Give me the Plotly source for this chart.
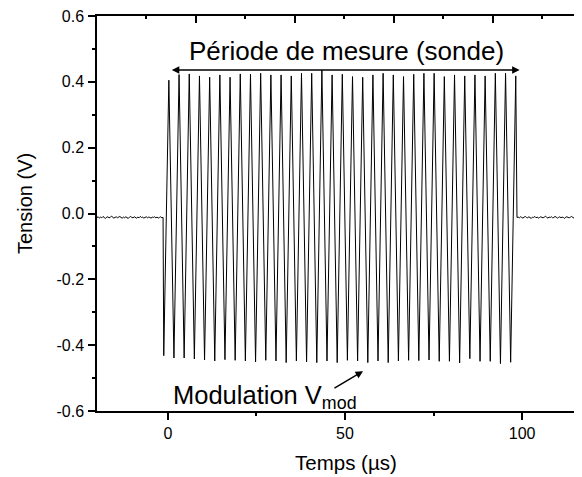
import numpy as np
import plotly.graph_objects as go

# ---------------- data ----------------
# times of oscillation maxima / minima (µs)
peak_t = [0.28, 3.16, 6.04, 8.92, 11.80, 14.68, 17.56, 20.44, 23.32, 26.20,
          29.08, 31.96, 34.84, 37.72, 40.60, 43.48, 46.36, 49.24, 52.12, 55.00,
          57.88, 60.76, 63.64, 66.52, 69.40, 72.28, 75.16, 78.04, 80.92, 83.80,
          86.68, 89.56, 92.44, 95.32, 98.20]
peak_v = [0.405, 0.422, 0.424, 0.418, 0.414, 0.421, 0.414, 0.424, 0.423, 0.426,
          0.421, 0.421, 0.418, 0.426, 0.426, 0.436, 0.421, 0.423, 0.416, 0.414,
          0.421, 0.426, 0.421, 0.416, 0.423, 0.426, 0.426, 0.416, 0.421, 0.418,
          0.421, 0.418, 0.426, 0.426, 0.418]
trough_t = [-1.16, 1.72, 4.60, 7.48, 10.36, 13.24, 16.12, 19.00, 21.88, 24.76,
            27.64, 30.52, 33.40, 36.28, 39.16, 42.04, 44.92, 47.80, 50.68, 53.56,
            56.44, 59.32, 62.20, 65.08, 67.96, 70.84, 73.72, 76.60, 79.48, 82.36,
            85.24, 88.12, 91.00, 93.88, 96.76]
trough_v = [-0.432, -0.439, -0.439, -0.442, -0.445, -0.448, -0.444, -0.446, -0.448, -0.451,
            -0.446, -0.448, -0.453, -0.448, -0.451, -0.453, -0.448, -0.453, -0.446, -0.448,
            -0.453, -0.448, -0.453, -0.448, -0.446, -0.447, -0.445, -0.449, -0.449, -0.454,
            -0.441, -0.449, -0.449, -0.456, -0.452]

# baseline (probe off) noise, before and after the measurement window
left_start, left_end = -20.0, -1.35
left_noise = [-0.012, -0.010, -0.014, -0.011, -0.013, -0.009, -0.012, -0.015, -0.011, -0.010,
              -0.013, -0.012, -0.008, -0.011, -0.014, -0.012, -0.010, -0.013, -0.011, -0.009,
              -0.012, -0.014, -0.011, -0.013, -0.010, -0.012, -0.015, -0.011, -0.009, -0.012,
              -0.013, -0.010, -0.012, -0.014, -0.011, -0.013, -0.009, -0.012, -0.011, -0.014,
              -0.012, -0.010, -0.013, -0.011, -0.012, -0.014, -0.011, -0.012, -0.010, -0.013,
              -0.011, -0.014, -0.012, -0.010, -0.013, -0.012]
right_start, right_end = 98.55, 117.0
right_noise = [-0.012, -0.011, -0.013, -0.010, -0.012, -0.014, -0.011, -0.009, -0.012, -0.013,
               -0.010, -0.012, -0.015, -0.011, -0.012, -0.009, -0.013, -0.011, -0.014, -0.012,
               -0.010, -0.012, -0.013, -0.011, -0.008, -0.012, -0.014, -0.011, -0.012, -0.010,
               -0.013, -0.012, -0.009, -0.011, -0.014, -0.012, -0.010, -0.013, -0.011, -0.012,
               -0.015, -0.011, -0.010, -0.012, -0.013, -0.011, -0.009, -0.012, -0.014, -0.011,
               -0.012, -0.010, -0.013, -0.012, -0.011, -0.013]

x_tickvals = [0, 50, 100]
x_ticktext = ["0", "50", "100"]
x_minor = [25, 75]
y_tickvals = [-0.6, -0.4, -0.2, 0.0, 0.2, 0.4, 0.6]
y_ticktext = ["-0.6", "-0.4", "-0.2", "0.0", "0.2", "0.4", "0.6"]
y_minor = [-0.5, -0.3, -0.1, 0.1, 0.3, 0.5]
top_tickvals = [0, 1, 2, 3, 4]
top_minor = [0.5, 1.5, 2.5, 3.5, 4.5]

# ---------------- build signal ----------------
lt = np.linspace(left_start, left_end, len(left_noise))
rt = np.linspace(right_start, right_end, len(right_noise))
osc_t, osc_v = [], []
for tt, tv, pt, pv in zip(trough_t, trough_v, peak_t, peak_v):
    osc_t += [tt, pt]
    osc_v += [tv, pv]
x = list(lt) + osc_t + list(rt)
y = list(left_noise) + osc_v + list(right_noise)

FONT = "Liberation Sans, Arial, sans-serif"
BLACK = "#000000"

fig = go.Figure()
fig.add_trace(go.Scatter(x=x, y=y, mode="lines",
                         line=dict(color=BLACK, width=1), showlegend=False,
                         hoverinfo="skip"))
# empty trace so that the (unlabelled) top frame axis gets drawn
fig.add_trace(go.Scatter(x=[], y=[], xaxis="x2", yaxis="y", mode="lines",
                         showlegend=False, hoverinfo="skip"))

# the page body has an 8 px default margin: figure is sized so it ends at the window edge
fig.update_layout(
    width=574, height=469, autosize=False,
    margin=dict(l=89, r=0, t=8, b=65.5),
    paper_bgcolor="white", plot_bgcolor="white",
    font=dict(family=FONT, color=BLACK, size=16),
    showlegend=False,
    xaxis=dict(range=[-20, 116.9], tickvals=x_tickvals, ticktext=x_ticktext,
               ticks="outside", ticklen=7, tickwidth=1.5, tickcolor=BLACK,
               showline=True, linewidth=1.5, linecolor=BLACK,
               showgrid=False, zeroline=False, automargin=False,
               ticklabelstandoff=0, ticklabeloverflow="allow",
               minor=dict(tickvals=x_minor, ticks="outside", ticklen=3.5,
                          tickwidth=1.5, tickcolor=BLACK, showgrid=False),
               tickfont=dict(size=16, family=FONT, color=BLACK)),
    yaxis=dict(range=[-0.6, 0.6], tickvals=y_tickvals, ticktext=y_ticktext,
               ticks="outside", ticklen=7, tickwidth=1.5, tickcolor=BLACK,
               showline=True, linewidth=1.5, linecolor=BLACK,
               showgrid=False, zeroline=False, automargin=False,
               ticklabelstandoff=1, ticklabeloverflow="allow",
               minor=dict(tickvals=y_minor, ticks="outside", ticklen=3.5,
                          tickwidth=1.5, tickcolor=BLACK, showgrid=False),
               tickfont=dict(size=16, family=FONT, color=BLACK)),
    xaxis2=dict(overlaying="x", side="top", anchor="y", range=[0, 4.9],
                tickvals=top_tickvals, ticks="inside", ticklen=7, tickwidth=1.5,
                tickcolor=BLACK, showticklabels=False, showline=True, linewidth=1.5,
                linecolor=BLACK, showgrid=False, zeroline=False, automargin=False,
                minor=dict(tickvals=top_minor, ticks="inside",
                           ticklen=3, tickwidth=1.5, tickcolor=BLACK, showgrid=False)),
)

# axis titles (placed as annotations to match the reference offsets)
fig.add_annotation(x=0.513, y=-0.130, xref="paper", yref="paper", text="Temps (µs)",
                   showarrow=False, font=dict(size=20.5, family=FONT, color=BLACK),
                   xanchor="center", yanchor="middle")
fig.add_annotation(x=-0.148, y=0.5246, xref="paper", yref="paper", text="Tension (V)",
                   textangle=-90, showarrow=False,
                   font=dict(size=20, family=FONT, color=BLACK),
                   xanchor="center", yanchor="middle")

fig.add_annotation(x=50.3, y=0.494, xref="x", yref="y", text="Période de mesure (sonde)",
                   showarrow=False, font=dict(size=26, family=FONT, color=BLACK),
                   xanchor="center", yanchor="middle")
fig.add_annotation(x=99.3, y=0.436, ax=0.7, ay=0.436, xref="x", yref="y",
                   axref="x", ayref="y", text="", showarrow=True,
                   arrowhead=2, startarrowhead=2, arrowside="end+start",
                   arrowwidth=1.5, arrowsize=1, startarrowsize=1,
                   standoff=0, startstandoff=0, arrowcolor=BLACK)
fig.add_annotation(x=1.0, y=-0.558, xref="x", yref="y", text="Modulation V<sub>mod</sub>",
                   showarrow=False, font=dict(size=25.5, family=FONT, color=BLACK),
                   xanchor="left", yanchor="middle")
fig.add_annotation(x=55.1, y=-0.479, ax=46.6, ay=-0.533, xref="x", yref="y",
                   axref="x", ayref="y", text="", showarrow=True,
                   arrowhead=2, arrowwidth=1.5, arrowsize=1, standoff=0,
                   arrowcolor=BLACK)

fig.write_html("out.html")
